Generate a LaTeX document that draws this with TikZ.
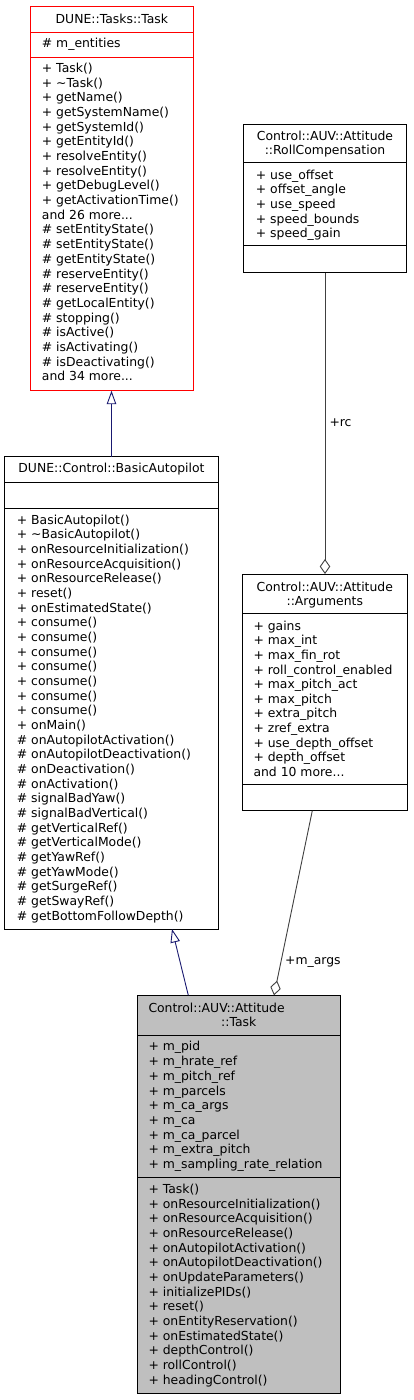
\documentclass[tikz,border=0pt]{standalone}
\usepackage{fontspec}
\setmainfont{DejaVu Sans}
\usetikzlibrary{arrows.meta,calc}
\definecolor{inhcol}{RGB}{25,25,112}
\definecolor{aggcol}{RGB}{64,64,64}
\definecolor{hlfill}{RGB}{191,191,191}
\newcommand\mdots{.\kern0pt.\kern0pt.}
\tikzset{
  box/.style={draw=black, line width=0.9pt, anchor=north west, inner sep=0pt, outer sep=0pt},
  sepline/.style={draw=black, line width=0.9pt},
  txt/.style={anchor=base west, inner sep=0pt, font=\fontsize{12.4}{14}\selectfont},
  ttl/.style={anchor=base, inner sep=0pt, font=\fontsize{12.4}{14}\selectfont},
  inh/.style={draw=inhcol, line width=0.9pt, -{Triangle[open,length=13.5pt,width=9.5pt,line width=0.9pt]}},
  agg/.style={draw=aggcol, line width=0.9pt, -{Diamond[open,length=15pt,width=10.5pt,line width=0.9pt]}},
  lbl/.style={anchor=west, inner sep=0pt, font=\fontsize{12.4}{14}\selectfont}
}
\newcommand\mylines[4]{%
  \foreach \t [count=\i from 0] in {#4} {\node[txt] at (#1, {#2+4.2+\i*#3}) {\t};}}
\begin{document}
\begin{tikzpicture}[x=1pt,y=-1pt]
\useasboundingbox[fill=white] (0,0) rectangle (413,1400);

% ---- DUNE::Tasks::Task
\node[box, draw=red, minimum width=162.8pt, minimum height=384.4pt] (t1) at (30.5,6.3) {};
\draw[sepline, red] (30.5,32.3) -- (193.3,32.3);
\draw[sepline, red] (30.5,57) -- (193.3,57);
\node[ttl] at (111.9,23.5) {DUNE::Tasks::Task};
\mylines{41.7}{43.3}{14.68}{\# m\_entities}
\mylines{41.7}{68.3}{14.68}{+ Task(), + \textasciitilde Task(), + getName(), + getSystemName(), + getSystemId(), + getEntityId(), + resolveEntity(), + resolveEntity(), + getDebugLevel(), + getActivationTime(), and 26 more\mdots, \# setEntityState(), \# setEntityState(), \# getEntityState(), \# reserveEntity(), \# reserveEntity(), \# getLocalEntity(), \# stopping(), \# isActive(), \# isActivating(), \# isDeactivating(), and 34 more\mdots}

% ---- DUNE::Control::BasicAutopilot
\node[box, minimum width=213.6pt, minimum height=472.3pt] (t2) at (4.7,456.7) {};
\draw[sepline] (4.7,482.7) -- (218.3,482.7);
\draw[sepline] (4.7,508.3) -- (218.3,508.3);
\node[ttl] at (111.5,472.5) {DUNE::Control::BasicAutopilot};
\mylines{16.7}{520}{14.66}{+ BasicAutopilot(), + \textasciitilde BasicAutopilot(), + onResourceInitialization(), + onResourceAcquisition(), + onResourceRelease(), + reset(), + onEstimatedState(), + consume(), + consume(), + consume(), + consume(), + consume(), + consume(), + consume(), + onMain(), \# onAutopilotActivation(), \# onAutopilotDeactivation(), \# onDeactivation(), \# onActivation(), \# signalBadYaw(), \# signalBadVertical(), \# getVerticalRef(), \# getVerticalMode(), \# getYawRef(), \# getYawMode(), \# getSurgeRef(), \# getSwayRef(), \# getBottomFollowDepth()}

% ---- RollCompensation
\node[box, minimum width=163.4pt, minimum height=148.7pt] (t3) at (243.3,124) {};
\draw[sepline] (243.3,162.7) -- (406.7,162.7);
\draw[sepline] (243.3,245) -- (406.7,245);
\node[ttl] at (325,140.8) {Control::AUV::Attitude};
\node[ttl] at (325,154.8) {::RollCompensation};
\mylines{255.7}{175}{14.67}{+ use\_offset, + offset\_angle, + use\_speed, + speed\_bounds, + speed\_gain}

% ---- Arguments
\node[box, minimum width=165pt, minimum height=236.7pt] (t4) at (242.3,574) {};
\draw[sepline] (242.3,613.3) -- (407.3,613.3);
\draw[sepline] (242.3,784.3) -- (407.3,784.3);
\node[ttl] at (324.8,591.2) {Control::AUV::Attitude};
\node[ttl] at (324.8,605.2) {::Arguments};
\mylines{253.3}{626}{14.62}{+ gains, + max\_int, + max\_fin\_rot, + roll\_control\_enabled, + max\_pitch\_act, + max\_pitch, + extra\_pitch, + zref\_extra, + use\_depth\_offset, + depth\_offset, and 10 more\mdots}

% ---- Control::AUV::Attitude::Task
\node[box, fill=hlfill, minimum width=202.7pt, minimum height=398pt] (t5) at (137.3,995.3) {};
\draw[sepline] (137.3,1035.3) -- (340,1035.3);
\draw[sepline] (137.3,1177.3) -- (340,1177.3);
\node[txt] at (148.3,1012.8) {Control::AUV::Attitude};
\node[ttl] at (238.7,1026.8) {::Task};
\mylines{148.3}{1046.7}{14.7}{+ m\_pid, + m\_hrate\_ref, + m\_pitch\_ref, + m\_parcels, + m\_ca\_args, + m\_ca, + m\_ca\_parcel, + m\_extra\_pitch, + m\_sampling\_rate\_relation}
\mylines{148.3}{1189.3}{14.67}{+ Task(), + onResourceInitialization(), + onResourceAcquisition(), + onResourceRelease(), + onAutopilotActivation(), + onAutopilotDeactivation(), + onUpdateParameters(), + initializePIDs(), + reset(), + onEntityReservation(), + onEstimatedState(), + depthControl(), + rollControl(), + headingControl()}

% ---- connectors
\draw[inh] (t2.north) -- (t2.north |- t1.south);
\draw[inh] ($(t5.north west)+(51,0)$) -- ($(t2.south west)+(167.3,0)$);
\draw[agg] ($(t3.south west)+(81.7,0)$) -- ($(t4.north west)+(82.7,0)$);
\draw[agg] ($(t4.south west)+(70,0)$) -- ($(t5.north west)+(136.7,0)$);
\node[lbl] (lrc) at (329.3,422.7) {+rc};
\node[lbl] (largs) at (285,961.7) {+m\_args};
\end{tikzpicture}
\end{document}
